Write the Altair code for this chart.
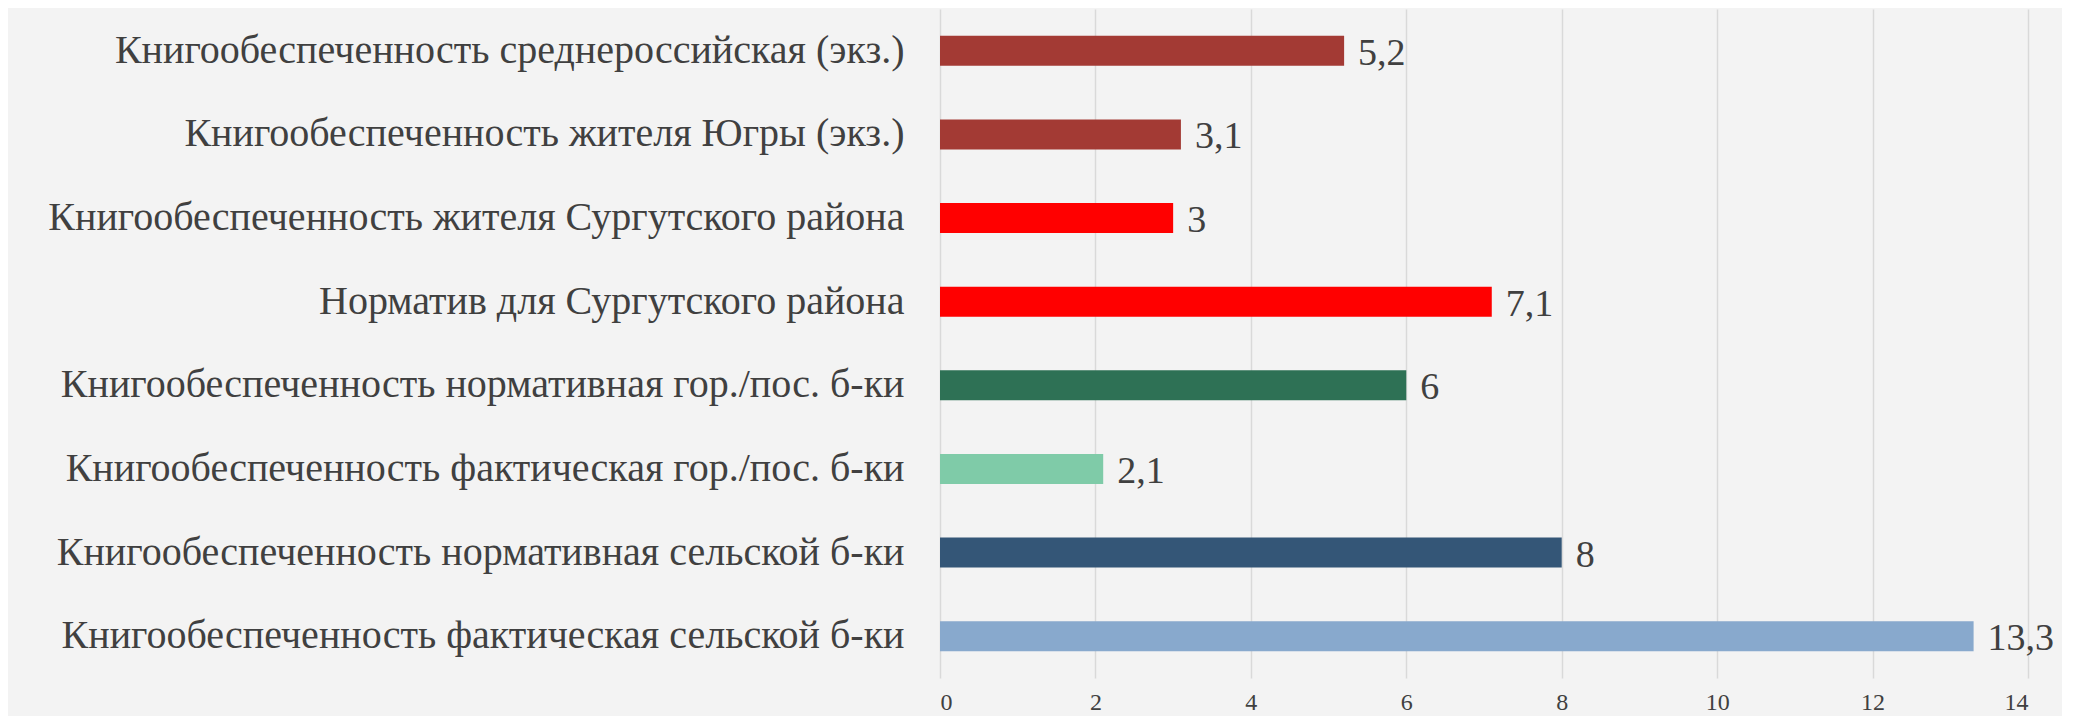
import altair as alt
import pandas as pd

categories = [
    "Книгообеспеченность среднероссийская (экз.)",
    "Книгообеспеченность жителя Югры (экз.)",
    "Книгообеспеченность жителя Сургутского района",
    "Норматив для Сургутского района",
    "Книгообеспеченность нормативная гор./пос. б-ки",
    "Книгообеспеченность фактическая гор./пос. б-ки",
    "Книгообеспеченность нормативная сельской б-ки",
    "Книгообеспеченность фактическая сельской б-ки",
]
values = [5.2, 3.1, 3, 7.1, 6, 2.1, 8, 13.3]
colors = ["#a33a34", "#a33a34", "#ff0000", "#ff0000", "#2e7155", "#7fcba8", "#345677", "#88a9cd"]
x_ticks = [0, 2, 4, 6, 8, 10, 12, 14]

df = pd.DataFrame({
    "cat": categories,
    "val": values,
    "label": [f"{v:g}".replace(".", ",") for v in values],
})

FONT = "Liberation Serif"
TEXT = "#404040"

x_enc = alt.X("val:Q", scale=alt.Scale(domain=[0, 14]),
              axis=alt.Axis(values=x_ticks, format="d", title=None, grid=True,
                            gridColor="#d9d9d9", gridWidth=1.5, domain=False, ticks=False,
                            labelFont=FONT, labelFontSize=24, labelColor=TEXT,
                            labelPadding=12))
y_enc = alt.Y("cat:N", sort=categories,
              scale=alt.Scale(paddingInner=0.64, paddingOuter=0.32),
              axis=alt.Axis(title=None, domain=False, ticks=False, labelFont=FONT,
                            labelFontSize=40, labelColor=TEXT, labelPadding=36,
                            labelLimit=1200))

bars = alt.Chart(df).mark_bar(size=30).encode(
    x=x_enc,
    y=y_enc,
    color=alt.Color("cat:N", scale=alt.Scale(domain=categories, range=colors), legend=None),
)

texts = alt.Chart(df).mark_text(align="left", baseline="middle", dx=14, dy=3,
                                font=FONT, fontSize=38, color=TEXT).encode(
    x="val:Q",
    y=alt.Y("cat:N", sort=categories),
    text="label:N",
)

chart = (bars + texts).properties(
    width=1088, height=669,
    autosize=alt.AutoSizeParams(type="none"),
    padding={"left": 932, "top": 1, "right": 34, "bottom": 38},
    background="#f3f3f3",
).configure_view(stroke=None)

chart.save("out.html", embed_options={"renderer": "svg", "actions": False})
